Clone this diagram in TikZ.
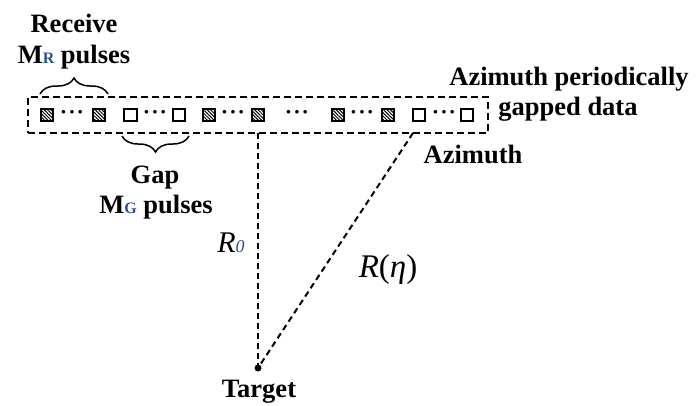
\documentclass[tikz,border=0pt]{standalone}
\usepackage{fontspec}
\setmainfont{Liberation Serif}
\usetikzlibrary{patterns.meta,decorations.pathreplacing}
\definecolor{subblue}{RGB}{40,80,140}
\newcommand{\lbl}{\fontsize{26.5}{30}\selectfont\bfseries}
\newcommand{\subsc}[1]{{\fontsize{16}{16}\selectfont\color{subblue}#1}}
\tikzset{
  every node/.style={inner sep=0pt, outer sep=0pt},
  pulse/.style={draw=black, line width=2pt, minimum size=12.5pt, rectangle},
  hatchbox/.style={pulse, fill=gray!55,
    pattern={Lines[angle=-45,distance=2.4pt,line width=1pt]}, pattern color=black},
  openbox/.style={pulse, fill=white},
  dotsnode/.style={font=\fontsize{22}{22}\selectfont\bfseries},
  framedash/.style={draw, line width=2pt, dash pattern=on 7pt off 4pt},
  rangeline/.style={draw, line width=2pt, dash pattern=on 6pt off 4pt},
  bracket/.style={draw, line width=1.5pt, decorate, decoration={brace, amplitude=16pt}},
  toplabel/.style={anchor=base, font=\lbl},
}
\begin{document}
\begin{tikzpicture}[x=1pt, y=-1pt]
\useasboundingbox (0,0) rectangle (699,405);

% the dashed frame holding the pulse train
\node[framedash, minimum width=460pt, minimum height=36pt] (strip) at (258,115) {};

% first receive group
\node[hatchbox] (p1) at (47,115) {};
\node[dotsnode] (d1) at (72,115) {·\kern1pt·\kern1pt·};
\node[hatchbox] (p2) at (99,115) {};
% first gap group
\node[openbox] (p3) at (130.5,115) {};
\node[dotsnode] (d2) at (155,115) {·\kern1pt·\kern1pt·};
\node[openbox] (p4) at (179,115) {};
% second receive group
\node[hatchbox] (p5) at (209,115) {};
\node[dotsnode] (d3) at (233,115) {·\kern1pt·\kern1pt·};
\node[hatchbox] (p6) at (258,115) {};
% repetition
\node[dotsnode] (d4) at (297,115) {·\kern1pt·\kern1pt·};
% last receive group
\node[hatchbox] (p7) at (338,115) {};
\node[dotsnode] (d5) at (362,115) {·\kern1pt·\kern1pt·};
\node[hatchbox] (p8) at (388,115) {};
% last gap group
\node[openbox] (p9) at (419,115) {};
\node[dotsnode] (d6) at (444,115) {·\kern1pt·\kern1pt·};
\node[openbox] (p10) at (467,115) {};

% braces
\draw[bracket] (40,94) -- (108,94);
\draw[bracket] (189,136) -- (122,136);

% labels
\node[toplabel] (recv1) at (74,32) {Receive};
\node[toplabel] (recv2) at (74,63) {M\subsc{R} pulses};
\node[toplabel] (gap1) at (155,183) {Gap};
\node[toplabel] (gap2) at (156,213) {M\subsc{G} pulses};
\node[toplabel] (az1) at (569,85) {Azimuth periodically};
\node[toplabel] (az2) at (568,115) {gapped data};
\node[toplabel] (az3) at (473,163) {Azimuth};

% target and ranges
\node[circle, fill=black, minimum size=7pt] (target) at (258,368) {};
\node[toplabel] (tlabel) at (259,397) {Target};
\coordinate (zenith) at (258,133);
\coordinate (slant) at (413,133);
\draw[rangeline] (zenith) -- (target.center);
\draw[rangeline] (slant) -- (target.center);
\node[anchor=base, font=\fontsize{30}{30}\selectfont\itshape] (r0) at (231,252) {R{\fontsize{18}{18}\selectfont\color{subblue}0}};
\node[anchor=base, font=\fontsize{33}{33}\selectfont] (reta) at (388,277) {\textit{R}(\textit{η})};
\end{tikzpicture}
\end{document}
